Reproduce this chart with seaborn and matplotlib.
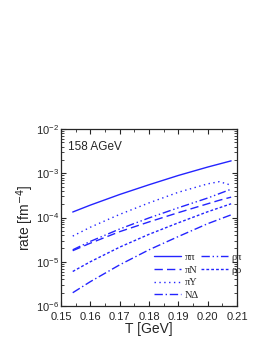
import numpy as np
import matplotlib
matplotlib.use('Agg')
import matplotlib.pyplot as plt
import seaborn as sns
from matplotlib.ticker import LogLocator, MultipleLocator, NullFormatter

# temperatures [GeV]
T = [0.154, 0.16, 0.17, 0.18, 0.19, 0.20, 0.204, 0.208]

# log10 of rate [fm^-4]
pipi = [-3.876, -3.72, -3.48, -3.26, -3.05, -2.86, -2.79, -2.72]
piN = [-4.75, -4.58, -4.32, -4.10, -3.89, -3.69, -3.61, -3.54]
piY = [-4.42, -4.22, -3.93, -3.67, -3.43, -3.24, -3.19, -3.27]
NDelta = [-5.70, -5.45, -5.07, -4.73, -4.43, -4.14, -4.04, -3.94]
rhopi = [-4.73, -4.54, -4.26, -4.01, -3.78, -3.56, -3.46, -3.36]
rhorho = [-5.22, -5.00, -4.67, -4.38, -4.12, -3.87, -3.78, -3.69]

sns.set_style('ticks')
plt.rcParams['font.family'] = ['Liberation Sans', 'DejaVu Sans']

fig = plt.figure(figsize=(2.73, 3.53), dpi=100)
ax = fig.add_axes([61 / 273, 1 - 306 / 353, 176 / 273, 177 / 353])

col = '#2424ff'
series = [
    ('ππ', pipi, '-'),
    ('πN', piN, (0, (6, 3))),
    ('πY', piY, (0, (1, 2.5))),
    ('NΔ', NDelta, (0, (6, 2, 1, 2))),
    ('ρπ', rhopi, (0, (6, 2, 1, 2, 1, 2))),
    ('ρρ', rhorho, (0, (2, 1.5))),
]
handles = {}
for name, vals, ls in series:
    sns.lineplot(x=T, y=10 ** np.array(vals), ax=ax, color=col, linewidth=1.0,
                 linestyle=ls, label=name, legend=False)
    handles[name] = ax.lines[-1]

ax.set_yscale('log')
ax.set_xlim(0.15, 0.21)
ax.set_ylim(1e-6, 1e-2)
ax.xaxis.set_major_locator(MultipleLocator(0.01))
ax.xaxis.set_minor_locator(MultipleLocator(0.005))
ax.yaxis.set_major_locator(LogLocator(base=10))
ax.yaxis.set_minor_locator(LogLocator(base=10, subs=np.arange(2, 10)))
ax.yaxis.set_minor_formatter(NullFormatter())
ax.xaxis.set_major_formatter(plt.FuncFormatter(lambda v, p: f'{v:.2f}'))
ax.tick_params(which='both', direction='in', top=True, right=True, labelsize=8)
ax.tick_params(axis='x', pad=4)
ax.tick_params(axis='y', pad=1.5)
ax.tick_params(which='major', length=3.5, width=0.8)
ax.tick_params(which='minor', length=2, width=0.6)
for s in ax.spines.values():
    s.set_linewidth(0.9)

ax.set_xlabel('T [GeV]', fontsize=10, labelpad=0)
ax.set_ylabel('rate [fm$^{-4}$]', fontsize=10, labelpad=0)
ax.text(0.04, 0.93, '158 AGeV', transform=ax.transAxes, fontsize=8.5, va='top')

lfont = {'family': 'Liberation Serif', 'size': 7.5}
kw = dict(loc='upper left', frameon=False, prop=lfont, handlelength=2.6,
          handletextpad=0.3, labelspacing=0.32, borderpad=0)
leg1 = ax.legend([handles[n] for n in ['ππ', 'πN', 'πY', 'NΔ']], ['ππ', 'πN', 'πY', 'NΔ'],
                 bbox_to_anchor=(0.5, 0.33), **kw)
ax.add_artist(leg1)
ax.legend([handles[n] for n in ['ρπ', 'ρρ']], ['ρπ', 'ρρ'],
          bbox_to_anchor=(0.765, 0.33), **kw)

fig.savefig('out.png', dpi=100)
